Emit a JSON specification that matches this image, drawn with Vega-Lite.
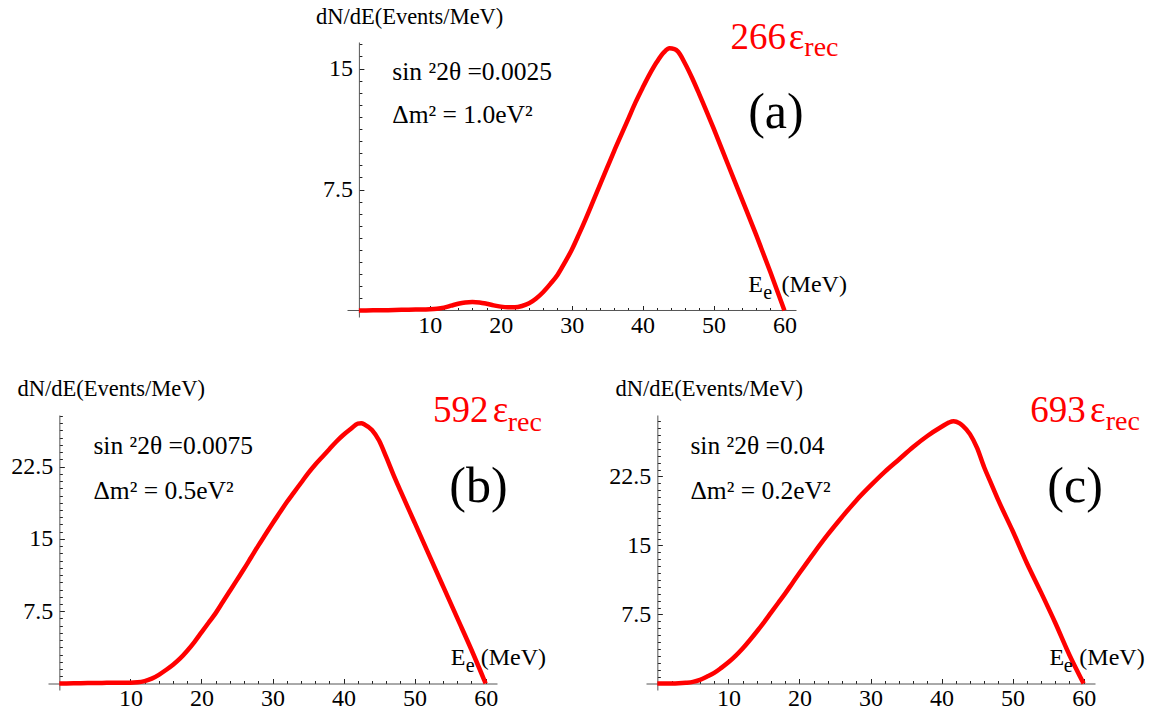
{
  "$schema": "https://vega.github.io/schema/vega-lite/v6.json",
  "padding": {"left": 10, "top": 5, "right": 5, "bottom": 5},
  "background": "white",
  "config": {
    "view": {"stroke": null},
    "font": "Liberation Serif",
    "axis": {
      "grid": false,
      "domainColor": "#555",
      "domainWidth": 1,
      "tickColor": "#222",
      "tickWidth": 1,
      "labelFont": "Liberation Serif",
      "labelFontSize": 24,
      "labelColor": "black",
      "titleFont": "Liberation Serif",
      "titleFontSize": 22.5,
      "titleFontWeight": "normal",
      "titleColor": "black"
    }
  },
  "bounds": "flush",
  "spacing": 98,
  "vconcat": [
    {
      "width": 748.5,
      "height": 275,
      "data": {"values": [
        {"E": 0, "N": 0}, {"E": 2, "N": 0.01}, {"E": 4, "N": 0.02}, {"E": 6, "N": 0.04}, {"E": 8, "N": 0.06},
        {"E": 10, "N": 0.08}, {"E": 11, "N": 0.11}, {"E": 12, "N": 0.18}, {"E": 13, "N": 0.3}, {"E": 14, "N": 0.42},
        {"E": 15, "N": 0.5}, {"E": 16, "N": 0.53}, {"E": 17, "N": 0.5}, {"E": 18, "N": 0.42}, {"E": 19, "N": 0.32},
        {"E": 20, "N": 0.24}, {"E": 21, "N": 0.2}, {"E": 22, "N": 0.2}, {"E": 23, "N": 0.28}, {"E": 24, "N": 0.45},
        {"E": 25, "N": 0.75}, {"E": 26, "N": 1.15}, {"E": 27, "N": 1.65}, {"E": 28, "N": 2.2}, {"E": 29, "N": 2.95},
        {"E": 30, "N": 3.75}, {"E": 31, "N": 4.7}, {"E": 32, "N": 5.7}, {"E": 33, "N": 6.75}, {"E": 34, "N": 7.8},
        {"E": 35, "N": 8.85}, {"E": 36, "N": 9.9}, {"E": 37, "N": 10.9}, {"E": 38, "N": 11.9}, {"E": 39, "N": 12.9},
        {"E": 40, "N": 13.8}, {"E": 41, "N": 14.65}, {"E": 42, "N": 15.4}, {"E": 43, "N": 16.0}, {"E": 43.8, "N": 16.25},
        {"E": 44.5, "N": 16.2}, {"E": 45, "N": 16.05}, {"E": 46, "N": 15.3}, {"E": 47, "N": 14.4}, {"E": 48, "N": 13.4},
        {"E": 50, "N": 11.3}, {"E": 52, "N": 9.1}, {"E": 54, "N": 6.9}, {"E": 56, "N": 4.7}, {"E": 58, "N": 2.4},
        {"E": 60, "N": 0}
      ]},
      "layer": [
        {"data": {"values": [{"t": "axis"}]},
          "mark": {"type": "rule", "color": "#555", "strokeWidth": 1},
          "encoding": {"x": {"datum": -1.6}, "x2": {"datum": 61.7}, "y": {"datum": 0}}},
        {
          "mark": {"type": "line", "color": "#ff0000", "strokeWidth": 4.5, "interpolate": "monotone"},
          "encoding": {
            "x": {"field": "E", "type": "quantitative",
              "scale": {"domain": [-43.83, 61.7], "nice": false, "zero": false},
              "axis": {"title": null, "offset": -6.5, "domain": false, "labelOverlap": false, "tickCount": 200, "format": "~g",
                "values": [2,4,6,8,10,12,14,16,18,20,22,24,26,28,30,32,34,36,38,40,42,44,46,48,50,52,54,56,58,60],
                "labelExpr": "datum.value % 10 === 0 ? datum.label : ''",
                "tickSize": {"condition": {"test": "datum.value % 10 === 0", "value": -5}, "value": -3},
                "labelPadding": 8}},
            "y": {"field": "N", "type": "quantitative",
              "scale": {"domain": [-0.403, 16.645], "nice": false, "zero": false},
              "axis": {"title": "dN/dE(Events/MeV)", "offset": -310.9, "labelOverlap": false, "tickCount": 200, "format": "~g",
                "titleAngle": 0, "titleAlign": "left", "titleBaseline": "alphabetic", "titleX": -43.5, "titleY": -19,
                "values": [0.75,1.5,2.25,3,3.75,4.5,5.25,6,6.75,7.5,8.25,9,9.75,10.5,11.25,12,12.75,13.5,14.25,15,15.75,16.5],
                "labelExpr": "datum.value === 7.5 || datum.value === 15 ? datum.label : ''",
                "tickSize": {"condition": {"test": "datum.value === 7.5 || datum.value === 15", "value": -5}, "value": -3},
                "labelPadding": 11.5}}
          }
        },
        {"data": {"values": [{"t": "sin ²2θ =0.0025"}]}, "mark": {"type": "text", "font": "Liberation Serif", "fontSize": 25.5, "align": "left", "baseline": "alphabetic", "color": "black"},
          "encoding": {"x": {"datum": 4.72}, "y": {"datum": 14.3}, "text": {"field": "t"}}},
        {"data": {"values": [{"t": "Δm² = 1.0eV²"}]}, "mark": {"type": "text", "font": "Liberation Serif", "fontSize": 25.5, "align": "left", "baseline": "alphabetic", "color": "black"},
          "encoding": {"x": {"datum": 4.72}, "y": {"datum": 11.6}, "text": {"field": "t"}}},
        {"data": {"values": [{"t": "(a)"}]}, "mark": {"type": "text", "font": "Liberation Serif", "fontSize": 50, "align": "center", "baseline": "alphabetic", "color": "black"},
          "encoding": {"x": {"datum": 58.8}, "y": {"datum": 11.3}, "text": {"field": "t"}}},
        {"data": {"values": [{"t": "266"}]}, "mark": {"type": "text", "font": "Liberation Serif", "fontSize": 37, "align": "left", "baseline": "alphabetic", "color": "#ff0000"},
          "encoding": {"x": {"datum": 52.4}, "y": {"datum": 16.22}, "text": {"field": "t"}}},
        {"data": {"values": [{"t": "ε"}]}, "mark": {"type": "text", "font": "Liberation Serif", "fontSize": 37, "align": "left", "baseline": "alphabetic", "color": "#ff0000"},
          "encoding": {"x": {"datum": 60.6}, "y": {"datum": 16.22}, "text": {"field": "t"}}},
        {"data": {"values": [{"t": "rec"}]}, "mark": {"type": "text", "font": "Liberation Serif", "fontSize": 28, "align": "left", "baseline": "alphabetic", "color": "#ff0000"},
          "encoding": {"x": {"datum": 62.8}, "y": {"datum": 15.77}, "text": {"field": "t"}}},
        {"data": {"values": [{"t": "E"}]}, "mark": {"type": "text", "font": "Liberation Serif", "fontSize": 24, "align": "left", "baseline": "alphabetic", "color": "black"},
          "encoding": {"x": {"datum": 54.9}, "y": {"datum": 1.12}, "text": {"field": "t"}}},
        {"data": {"values": [{"t": "e"}]}, "mark": {"type": "text", "font": "Liberation Serif", "fontSize": 20, "align": "left", "baseline": "alphabetic", "color": "black"},
          "encoding": {"x": {"datum": 57.0}, "y": {"datum": 0.74}, "text": {"field": "t"}}},
        {"data": {"values": [{"t": "(MeV)"}]}, "mark": {"type": "text", "font": "Liberation Serif", "fontSize": 24, "align": "left", "baseline": "alphabetic", "color": "black"},
          "encoding": {"x": {"datum": 59.6}, "y": {"datum": 1.12}, "text": {"field": "t"}}}
      ]
    },
    {
      "bounds": "flush",
      "spacing": 149,
      "hconcat": [
        {
          "width": 449,
          "height": 275,
          "data": {"values": [
            {"E": 0, "N": 0}, {"E": 2, "N": 0.02}, {"E": 4, "N": 0.04}, {"E": 6, "N": 0.06}, {"E": 8, "N": 0.08},
            {"E": 10, "N": 0.08}, {"E": 11, "N": 0.12}, {"E": 12, "N": 0.25}, {"E": 13, "N": 0.5}, {"E": 14, "N": 0.9},
            {"E": 15, "N": 1.4}, {"E": 16, "N": 1.95}, {"E": 17, "N": 2.6}, {"E": 18, "N": 3.4}, {"E": 19, "N": 4.3},
            {"E": 20, "N": 5.3}, {"E": 21, "N": 6.3}, {"E": 22, "N": 7.3}, {"E": 23, "N": 8.45}, {"E": 24, "N": 9.6},
            {"E": 25, "N": 10.75}, {"E": 26, "N": 11.9}, {"E": 27, "N": 13.1}, {"E": 28, "N": 14.3}, {"E": 29, "N": 15.45},
            {"E": 30, "N": 16.6}, {"E": 31, "N": 17.7}, {"E": 32, "N": 18.8}, {"E": 33, "N": 19.8}, {"E": 34, "N": 20.8},
            {"E": 35, "N": 21.8}, {"E": 36, "N": 22.7}, {"E": 37, "N": 23.5}, {"E": 38, "N": 24.3}, {"E": 39, "N": 25.1},
            {"E": 40, "N": 25.8}, {"E": 41, "N": 26.4}, {"E": 42, "N": 26.95}, {"E": 42.5, "N": 27.0}, {"E": 43, "N": 26.85},
            {"E": 44, "N": 26.3}, {"E": 45, "N": 25.2}, {"E": 46, "N": 23.5}, {"E": 47, "N": 21.7}, {"E": 48, "N": 20.0},
            {"E": 50, "N": 16.7}, {"E": 52, "N": 13.4}, {"E": 54, "N": 10.1}, {"E": 56, "N": 6.8}, {"E": 58, "N": 3.5},
            {"E": 60, "N": 0}
          ]},
          "layer": [
            {
              "mark": {"type": "line", "color": "#ff0000", "strokeWidth": 4.5, "interpolate": "monotone"},
              "encoding": {
                "x": {"field": "E", "type": "quantitative",
                  "scale": {"domain": [-1.6, 61.6], "nice": false, "zero": false},
                  "axis": {"title": null, "offset": -6.5, "labelOverlap": false, "tickCount": 200, "format": "~g",
                    "values": [2,4,6,8,10,12,14,16,18,20,22,24,26,28,30,32,34,36,38,40,42,44,46,48,50,52,54,56,58,60],
                    "labelExpr": "datum.value % 10 === 0 ? datum.label : ''",
                    "tickSize": {"condition": {"test": "datum.value % 10 === 0", "value": -5}, "value": -3},
                    "labelPadding": 8}},
                "y": {"field": "N", "type": "quantitative",
                  "scale": {"domain": [-0.674, 27.85], "nice": false, "zero": false},
                  "axis": {"title": "dN/dE(Events/MeV)", "offset": -11.35, "labelOverlap": false, "tickCount": 200, "format": "~g",
                    "titleAngle": 0, "titleAlign": "left", "titleBaseline": "alphabetic", "titleX": -42.3, "titleY": -20,
                    "values": [0.75,1.5,2.25,3,3.75,4.5,5.25,6,6.75,7.5,8.25,9,9.75,10.5,11.25,12,12.75,13.5,14.25,15,15.75,16.5,17.25,18,18.75,19.5,20.25,21,21.75,22.5,23.25,24,24.75,25.5,26.25,27,27.75],
                    "labelExpr": "datum.value === 7.5 || datum.value === 15 || datum.value === 22.5 ? datum.label : ''",
                    "tickSize": {"condition": {"test": "datum.value === 7.5 || datum.value === 15 || datum.value === 22.5", "value": -5}, "value": -3},
                    "labelPadding": 11.5}}
              }
            },
            {"data": {"values": [{"t": "sin ²2θ =0.0075"}]}, "mark": {"type": "text", "font": "Liberation Serif", "fontSize": 25.5, "align": "left", "baseline": "alphabetic", "color": "black"},
              "encoding": {"x": {"datum": 4.79}, "y": {"datum": 23.8}, "text": {"field": "t"}}},
            {"data": {"values": [{"t": "Δm² = 0.5eV²"}]}, "mark": {"type": "text", "font": "Liberation Serif", "fontSize": 25.5, "align": "left", "baseline": "alphabetic", "color": "black"},
              "encoding": {"x": {"datum": 4.79}, "y": {"datum": 19.16}, "text": {"field": "t"}}},
            {"data": {"values": [{"t": "(b)"}]}, "mark": {"type": "text", "font": "Liberation Serif", "fontSize": 50, "align": "center", "baseline": "alphabetic", "color": "black"},
              "encoding": {"x": {"datum": 58.98}, "y": {"datum": 18.8}, "text": {"field": "t"}}},
            {"data": {"values": [{"t": "592"}]}, "mark": {"type": "text", "font": "Liberation Serif", "fontSize": 37, "align": "left", "baseline": "alphabetic", "color": "#ff0000"},
              "encoding": {"x": {"datum": 52.6}, "y": {"datum": 27.1}, "text": {"field": "t"}}},
            {"data": {"values": [{"t": "ε"}]}, "mark": {"type": "text", "font": "Liberation Serif", "fontSize": 37, "align": "left", "baseline": "alphabetic", "color": "#ff0000"},
              "encoding": {"x": {"datum": 61.0}, "y": {"datum": 27.1}, "text": {"field": "t"}}},
            {"data": {"values": [{"t": "rec"}]}, "mark": {"type": "text", "font": "Liberation Serif", "fontSize": 28, "align": "left", "baseline": "alphabetic", "color": "#ff0000"},
              "encoding": {"x": {"datum": 63.1}, "y": {"datum": 26.2}, "text": {"field": "t"}}},
            {"data": {"values": [{"t": "E"}]}, "mark": {"type": "text", "font": "Liberation Serif", "fontSize": 24, "align": "left", "baseline": "alphabetic", "color": "black"},
              "encoding": {"x": {"datum": 55.1}, "y": {"datum": 1.87}, "text": {"field": "t"}}},
            {"data": {"values": [{"t": "e"}]}, "mark": {"type": "text", "font": "Liberation Serif", "fontSize": 20, "align": "left", "baseline": "alphabetic", "color": "black"},
              "encoding": {"x": {"datum": 57.2}, "y": {"datum": 1.17}, "text": {"field": "t"}}},
            {"data": {"values": [{"t": "(MeV)"}]}, "mark": {"type": "text", "font": "Liberation Serif", "fontSize": 24, "align": "left", "baseline": "alphabetic", "color": "black"},
              "encoding": {"x": {"datum": 59.3}, "y": {"datum": 1.87}, "text": {"field": "t"}}}
          ]
        },
        {
          "width": 449,
          "height": 275,
          "data": {"values": [
            {"E": 0, "N": 0}, {"E": 2, "N": 0.0}, {"E": 3, "N": 0.02}, {"E": 4, "N": 0.08}, {"E": 5, "N": 0.18},
            {"E": 6, "N": 0.4}, {"E": 7, "N": 0.75}, {"E": 8, "N": 1.15}, {"E": 9, "N": 1.7}, {"E": 10, "N": 2.3},
            {"E": 11, "N": 3.0}, {"E": 12, "N": 3.8}, {"E": 13, "N": 4.7}, {"E": 14, "N": 5.65}, {"E": 15, "N": 6.65},
            {"E": 16, "N": 7.7}, {"E": 17, "N": 8.75}, {"E": 18, "N": 9.8}, {"E": 19, "N": 10.9}, {"E": 20, "N": 12.0},
            {"E": 22, "N": 14.15}, {"E": 24, "N": 16.2}, {"E": 26, "N": 18.1}, {"E": 28, "N": 19.9}, {"E": 30, "N": 21.5},
            {"E": 32, "N": 23.0}, {"E": 34, "N": 24.35}, {"E": 36, "N": 25.7}, {"E": 38, "N": 26.9}, {"E": 40, "N": 27.9},
            {"E": 41, "N": 28.35}, {"E": 41.7, "N": 28.5}, {"E": 42.5, "N": 28.3}, {"E": 43, "N": 28.0}, {"E": 44, "N": 27.1},
            {"E": 45, "N": 25.6}, {"E": 46, "N": 23.5}, {"E": 47, "N": 21.7}, {"E": 48, "N": 19.9}, {"E": 50, "N": 16.6},
            {"E": 52, "N": 13.1}, {"E": 54, "N": 9.9}, {"E": 56, "N": 6.6}, {"E": 58, "N": 3.1}, {"E": 60, "N": 0}
          ]},
          "layer": [
            {
              "mark": {"type": "line", "color": "#ff0000", "strokeWidth": 4.5, "interpolate": "monotone"},
              "encoding": {
                "x": {"field": "E", "type": "quantitative",
                  "scale": {"domain": [-1.6, 61.6], "nice": false, "zero": false},
                  "axis": {"title": null, "offset": -6.5, "labelOverlap": false, "tickCount": 200, "format": "~g",
                    "values": [2,4,6,8,10,12,14,16,18,20,22,24,26,28,30,32,34,36,38,40,42,44,46,48,50,52,54,56,58,60],
                    "labelExpr": "datum.value % 10 === 0 ? datum.label : ''",
                    "tickSize": {"condition": {"test": "datum.value % 10 === 0", "value": -5}, "value": -3},
                    "labelPadding": 8}},
                "y": {"field": "N", "type": "quantitative",
                  "scale": {"domain": [-0.707, 29.18], "nice": false, "zero": false},
                  "axis": {"title": "dN/dE(Events/MeV)", "offset": -11.35, "labelOverlap": false, "tickCount": 200, "format": "~g",
                    "titleAngle": 0, "titleAlign": "left", "titleBaseline": "alphabetic", "titleX": -42.3, "titleY": -20,
                    "values": [0.75,1.5,2.25,3,3.75,4.5,5.25,6,6.75,7.5,8.25,9,9.75,10.5,11.25,12,12.75,13.5,14.25,15,15.75,16.5,17.25,18,18.75,19.5,20.25,21,21.75,22.5,23.25,24,24.75,25.5,26.25,27,27.75,28.5],
                    "labelExpr": "datum.value === 7.5 || datum.value === 15 || datum.value === 22.5 ? datum.label : ''",
                    "tickSize": {"condition": {"test": "datum.value === 7.5 || datum.value === 15 || datum.value === 22.5", "value": -5}, "value": -3},
                    "labelPadding": 11.5}}
              }
            },
            {"data": {"values": [{"t": "sin ²2θ =0.04"}]}, "mark": {"type": "text", "font": "Liberation Serif", "fontSize": 25.5, "align": "left", "baseline": "alphabetic", "color": "black"},
              "encoding": {"x": {"datum": 4.65}, "y": {"datum": 24.97}, "text": {"field": "t"}}},
            {"data": {"values": [{"t": "Δm² = 0.2eV²"}]}, "mark": {"type": "text", "font": "Liberation Serif", "fontSize": 25.5, "align": "left", "baseline": "alphabetic", "color": "black"},
              "encoding": {"x": {"datum": 4.65}, "y": {"datum": 20.08}, "text": {"field": "t"}}},
            {"data": {"values": [{"t": "(c)"}]}, "mark": {"type": "text", "font": "Liberation Serif", "fontSize": 50, "align": "center", "baseline": "alphabetic", "color": "black"},
              "encoding": {"x": {"datum": 58.8}, "y": {"datum": 19.7}, "text": {"field": "t"}}},
            {"data": {"values": [{"t": "693"}]}, "mark": {"type": "text", "font": "Liberation Serif", "fontSize": 37, "align": "left", "baseline": "alphabetic", "color": "#ff0000"},
              "encoding": {"x": {"datum": 52.5}, "y": {"datum": 28.4}, "text": {"field": "t"}}},
            {"data": {"values": [{"t": "ε"}]}, "mark": {"type": "text", "font": "Liberation Serif", "fontSize": 37, "align": "left", "baseline": "alphabetic", "color": "#ff0000"},
              "encoding": {"x": {"datum": 60.9}, "y": {"datum": 28.4}, "text": {"field": "t"}}},
            {"data": {"values": [{"t": "rec"}]}, "mark": {"type": "text", "font": "Liberation Serif", "fontSize": 28, "align": "left", "baseline": "alphabetic", "color": "#ff0000"},
              "encoding": {"x": {"datum": 63.1}, "y": {"datum": 27.5}, "text": {"field": "t"}}},
            {"data": {"values": [{"t": "E"}]}, "mark": {"type": "text", "font": "Liberation Serif", "fontSize": 24, "align": "left", "baseline": "alphabetic", "color": "black"},
              "encoding": {"x": {"datum": 55.2}, "y": {"datum": 1.96}, "text": {"field": "t"}}},
            {"data": {"values": [{"t": "e"}]}, "mark": {"type": "text", "font": "Liberation Serif", "fontSize": 20, "align": "left", "baseline": "alphabetic", "color": "black"},
              "encoding": {"x": {"datum": 57.2}, "y": {"datum": 1.23}, "text": {"field": "t"}}},
            {"data": {"values": [{"t": "(MeV)"}]}, "mark": {"type": "text", "font": "Liberation Serif", "fontSize": 24, "align": "left", "baseline": "alphabetic", "color": "black"},
              "encoding": {"x": {"datum": 59.4}, "y": {"datum": 1.96}, "text": {"field": "t"}}}
          ]
        }
      ]
    }
  ]
}
